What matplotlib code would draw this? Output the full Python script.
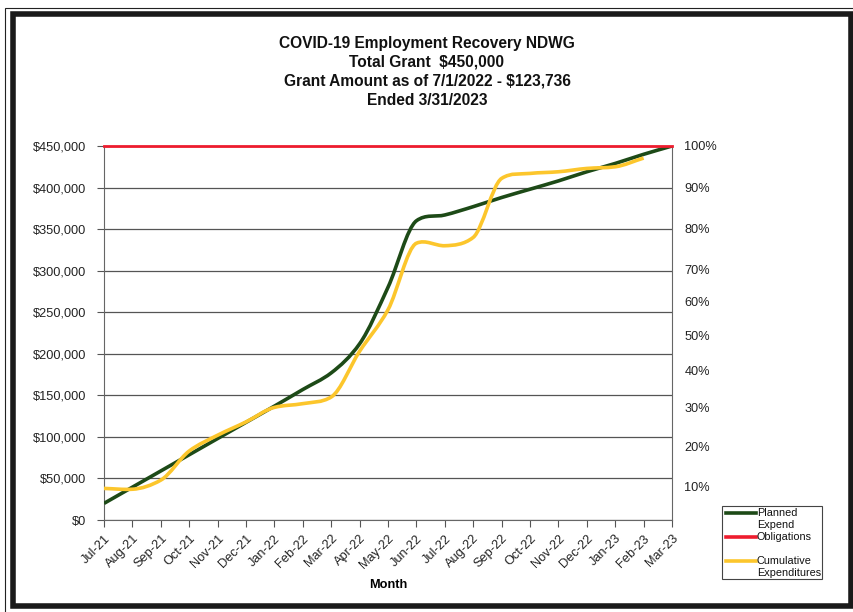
import numpy as np
import matplotlib
matplotlib.use('Agg')
import matplotlib.pyplot as plt
import matplotlib.path as mpath
import matplotlib.patches as mpatches
from matplotlib.lines import Line2D
from matplotlib.ticker import FuncFormatter

plt.rcParams['font.family'] = ['Liberation Sans', 'DejaVu Sans']

# data
months = ['Jul-21', 'Aug-21', 'Sep-21', 'Oct-21', 'Nov-21', 'Dec-21', 'Jan-22',
          'Feb-22', 'Mar-22', 'Apr-22', 'May-22', 'Jun-22', 'Jul-22', 'Aug-22',
          'Sep-22', 'Oct-22', 'Nov-22', 'Dec-22', 'Jan-23', 'Feb-23', 'Mar-23']
planned = [20000, 39500, 59000, 78500, 98000, 117500, 137000, 157000, 177000,
           212000, 280000, 360000, 367000, 377000, 388000, 398000, 408000,
           419000, 429000, 440000, 450000]
obligations = [450000] * 21
cumulative = [38000, 37000, 48000, 83000, 102000, 118000, 135500, 140000, 148000,
              203000, 253000, 333000, 330000, 340000, 411000, 417000, 419000,
              423000, 425000, 435500]
pct_labels = ['100%', '90%', '80%', '70%', '60%', '50%', '40%', '30%', '20%', '10%']
pct_pos = [450000, 400500, 351000, 302000, 263500, 221400, 179300, 134800, 89000, 40900]

W, H = 854, 612


def fx(x):
    return x / W


def fy(y):
    return 1 - y / H


def smooth_path(xs, ys, w=0.4):
    # smoothed line as cubic Bezier segments; tangent mixes Catmull-Rom and monotone
    xs = np.asarray(xs, float)
    ys = np.asarray(ys, float)
    d = np.diff(ys) / np.diff(xs)
    m = np.zeros_like(ys)
    m[0], m[-1] = d[0], d[-1]
    for i in range(1, len(ys) - 1):
        cr = (ys[i + 1] - ys[i - 1]) / (xs[i + 1] - xs[i - 1])
        mono = 0.0
        if d[i - 1] * d[i] > 0:
            mono = 2 * d[i - 1] * d[i] / (d[i - 1] + d[i])
        m[i] = w * cr + (1 - w) * mono
    verts = [(xs[0], ys[0])]
    codes = [mpath.Path.MOVETO]
    for i in range(len(ys) - 1):
        h = xs[i + 1] - xs[i]
        verts += [(xs[i] + h / 3, ys[i] + m[i] * h / 3),
                  (xs[i + 1] - h / 3, ys[i + 1] - m[i + 1] * h / 3),
                  (xs[i + 1], ys[i + 1])]
        codes += [mpath.Path.CURVE4] * 3
    return mpath.Path(verts, codes)


fig = plt.figure(figsize=(8.54, 6.12), dpi=100)
ax = fig.add_axes([fx(104), fy(520), fx(672) - fx(104), fy(146) - fy(520)])

x = np.arange(len(months))
green = '#1d4a17'
red = '#ee1c2e'
yellow = '#fcc62c'

ax.add_patch(mpatches.PathPatch(smooth_path(x, planned), fill=False, ec=green, lw=2.6, zorder=3))
ax.plot(x, obligations, color=red, lw=2.0, zorder=4, clip_on=False)
ax.add_patch(mpatches.PathPatch(smooth_path(x[:len(cumulative)], cumulative), fill=False,
                                ec=yellow, lw=2.6, zorder=3))

ax.set_xlim(0, len(months) - 1)
ax.set_ylim(0, 450000)
ax.set_yticks(np.arange(0, 450001, 50000))
ax.yaxis.set_major_formatter(FuncFormatter(lambda v, p: '${:,.0f}'.format(v)))
ax.set_xticks(x)
ax.set_xticklabels(months, rotation=45, ha='right', rotation_mode='anchor')
ax.tick_params(axis='both', labelsize=9.2, color='#555555', length=5, width=0.8, colors='#222222')
ax.tick_params(axis='y', pad=8)
ax.tick_params(axis='x', pad=4)
ax.grid(axis='y', color='#555555', lw=0.9)
ax.set_axisbelow(True)
for s in ['left', 'bottom', 'right']:
    ax.spines[s].set_color('#666666')
    ax.spines[s].set_linewidth(0.8)
ax.spines['top'].set_visible(False)
ax.set_xlabel('Month', fontsize=9.2, fontweight='bold', labelpad=6)

ax2 = ax.twinx()
ax2.set_ylim(0, 450000)
ax2.set_yticks(pct_pos)
ax2.set_yticklabels(pct_labels)
ax2.tick_params(axis='y', length=0, pad=9, labelsize=9.2, colors='#222222')
for s in ax2.spines.values():
    s.set_visible(False)

fig.text(0.5, fy(36), 'COVID-19 Employment Recovery NDWG\nTotal Grant  $450,000\n'
         'Grant Amount as of 7/1/2022 - $123,736\nEnded 3/31/2023',
         ha='center', va='top', fontsize=11.2, fontweight='bold', linespacing=1.32,
         color='#111111')

# legend box
fig.add_artist(mpatches.Rectangle((fx(722), fy(579)), fx(822) - fx(722), fy(506) - fy(579),
                                  transform=fig.transFigure, fill=False, ec='#444444', lw=0.8))
leg_rows = [(green, 'Planned', 513), (None, 'Expend', 525), (red, 'Obligations', 537),
            (yellow, 'Cumulative', 561), (None, 'Expenditures', 573)]
for col, txt, yy in leg_rows:
    if col is not None:
        fig.add_artist(Line2D([fx(726), fx(756)], [fy(yy), fy(yy)], color=col, lw=2.6,
                              transform=fig.transFigure))
    fig.text(fx(757), fy(yy), txt, fontsize=7.8, va='center', ha='left', color='#111111')

# page frame
fig.add_artist(mpatches.Rectangle((fx(5), fy(620)), fx(860) - fx(5), fy(8) - fy(620),
                                  transform=fig.transFigure, fill=False, ec='#222222', lw=0.8))
fig.add_artist(mpatches.Rectangle((fx(13), fy(606)), fx(851) - fx(13), fy(14) - fy(606),
                                  transform=fig.transFigure, fill=False, ec='#1a1a1a', lw=4))

fig.savefig('out.png', dpi=100)
